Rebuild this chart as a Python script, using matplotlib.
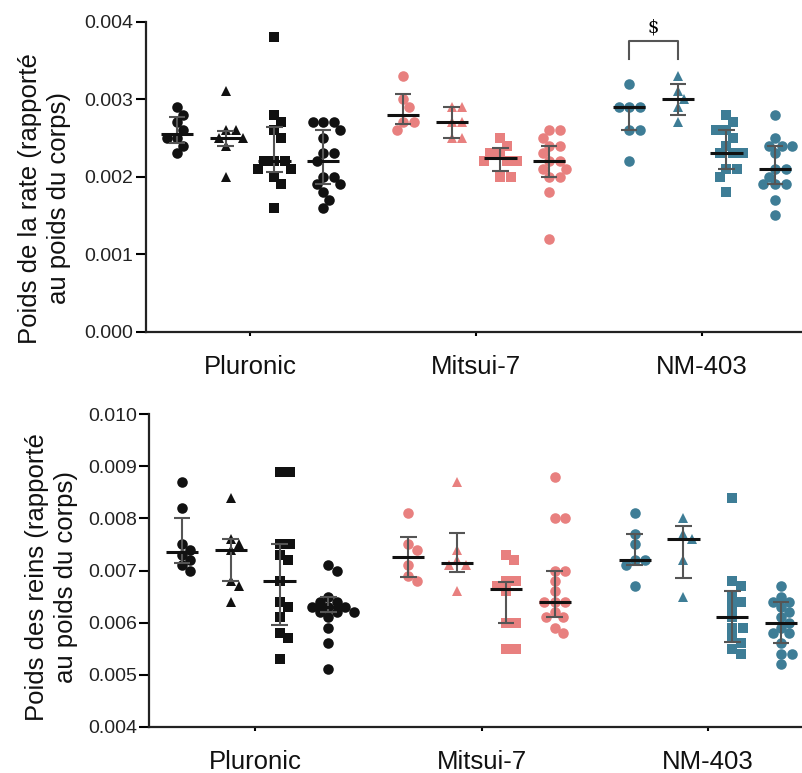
"""Spleen / kidney weight dot plots (median + IQR), two stacked panels."""
import numpy as np
import matplotlib
matplotlib.use("Agg")
import matplotlib.pyplot as plt
from matplotlib.ticker import FormatStrFormatter

plt.rcParams["font.family"] = ["Liberation Sans", "DejaVu Sans"]

# --- data ---------------------------------------------------------------
groups = ["Pluronic", "Mitsui-7", "NM-403"]
colors = ["#111111", "#E8807F", "#3E7D96"]
markers = ["o", "^", "s", "o"]

# spleen (rate), per group: 4 sub-series
rate_pluronic = [
    [0.0029, 0.0028, 0.0027, 0.0026, 0.0025, 0.0025, 0.0024, 0.0023],
    [0.0031, 0.0026, 0.0026, 0.0025, 0.0025, 0.0024, 0.0020],
    [0.0038, 0.0028, 0.0027, 0.0026, 0.0025, 0.0022, 0.0022, 0.0022, 0.0021,
     0.0021, 0.0020, 0.0019, 0.0016],
    [0.0027, 0.0027, 0.0027, 0.0026, 0.0025, 0.0023, 0.0023, 0.0022, 0.0020,
     0.0020, 0.0019, 0.0019, 0.0018, 0.0017, 0.0016],
]
rate_mitsui = [
    [0.0033, 0.0030, 0.0029, 0.0027, 0.0027, 0.0026],
    [0.0029, 0.0029, 0.0027, 0.0027, 0.0025, 0.0025],
    [0.0025, 0.0024, 0.0023, 0.0023, 0.0022, 0.0022, 0.0022, 0.0020, 0.0020],
    [0.0026, 0.0026, 0.0025, 0.0024, 0.0024, 0.0023, 0.0022, 0.0022, 0.0021,
     0.0021, 0.0020, 0.0020, 0.0018, 0.0012],
]
rate_nm = [
    [0.0032, 0.0029, 0.0029, 0.0029, 0.0026, 0.0026, 0.0022],
    [0.0033, 0.0031, 0.0030, 0.0029, 0.0027],
    [0.0028, 0.0027, 0.0026, 0.0026, 0.0025, 0.0024, 0.0023, 0.0023, 0.0023,
     0.0021, 0.0021, 0.0020, 0.0018],
    [0.0028, 0.0025, 0.0024, 0.0024, 0.0024, 0.0023, 0.0021, 0.0021, 0.0020,
     0.0019, 0.0019, 0.0019, 0.0017, 0.0015],
]
# (median, low, high) as drawn
rate_stats = [
    [(0.00255, 0.00243, 0.00277), (0.0025, 0.0024, 0.00259),
     (0.0022, 0.00206, 0.00264), (0.0022, 0.0019, 0.0026)],
    [(0.0028, 0.00268, 0.00307), (0.0027, 0.0025, 0.0029),
     (0.00224, 0.00207, 0.00237), (0.0022, 0.0020, 0.0024)],
    [(0.0029, 0.0026, 0.0029), (0.0030, 0.0028, 0.0032),
     (0.0023, 0.0021, 0.0026), (0.0021, 0.0019, 0.0024)],
]

# kidney (reins)
kid_pluronic = [
    [0.0087, 0.0082, 0.0075, 0.0074, 0.0073, 0.0072, 0.0071, 0.0070],
    [0.0084, 0.0076, 0.0075, 0.0074, 0.0068, 0.0067, 0.0064],
    [0.0089, 0.0089, 0.0075, 0.0075, 0.0073, 0.0072, 0.0068, 0.0064, 0.0063,
     0.0061, 0.0058, 0.0057, 0.0053],
    [0.0071, 0.0070, 0.0065, 0.0064, 0.0064, 0.0063, 0.0063, 0.0063, 0.0062,
     0.0062, 0.0062, 0.0061, 0.0059, 0.0056, 0.0051],
]
kid_mitsui = [
    [0.0081, 0.0075, 0.0074, 0.0071, 0.0069, 0.0068],
    [0.0087, 0.0074, 0.0072, 0.0071, 0.0071, 0.0066],
    [0.0073, 0.0072, 0.0068, 0.0068, 0.0067, 0.0066, 0.0060, 0.0060, 0.0055,
     0.0055],
    [0.0088, 0.0080, 0.0080, 0.0070, 0.0070, 0.0068, 0.0066, 0.0064, 0.0064,
     0.0064, 0.0062, 0.0061, 0.0061, 0.0059, 0.0058],
]
kid_nm = [
    [0.0081, 0.0077, 0.0075, 0.0072, 0.0072, 0.0071, 0.0067],
    [0.0080, 0.0077, 0.0076, 0.0072, 0.0065],
    [0.0084, 0.0068, 0.0067, 0.0065, 0.0064, 0.0063, 0.0061, 0.0059, 0.0059,
     0.0057, 0.0056, 0.0055, 0.0054],
    [0.0067, 0.0065, 0.0064, 0.0064, 0.0063, 0.0062, 0.0061, 0.0060, 0.0059,
     0.0058, 0.0058, 0.0056, 0.0054, 0.0054, 0.0052],
]
kid_stats = [
    [(0.00735, 0.00714, 0.0080), (0.0074, 0.0068, 0.0076),
     (0.0068, 0.00596, 0.0075), (0.0063, 0.0062, 0.0065)],
    [(0.00725, 0.00687, 0.00765), (0.00715, 0.00697, 0.00772),
     (0.00665, 0.0060, 0.00678), (0.0064, 0.0061, 0.0070)],
    [(0.0072, 0.0071, 0.0077), (0.0076, 0.00685, 0.00785),
     (0.0061, 0.00563, 0.0066), (0.0060, 0.0056, 0.0064)],
]

GROUP_STEP = 4.64
W, H = 802, 773


def pos(g, s):
    return g * GROUP_STEP + s


def swarm_x(ax, xc, vals, diam=10.5):
    """simple beeswarm in pixel space"""
    vals = np.asarray(vals, float)
    pts = ax.transData.transform(np.column_stack([np.full(len(vals), xc), vals]))
    x0, ys = pts[0, 0], pts[:, 1]
    xs = np.empty(len(vals))
    placed = []
    step = diam * 0.1
    for i in np.argsort(-vals, kind="stable"):
        for k in range(400):
            off = ((k + 1) // 2) * step * (1 if k % 2 else -1)
            if all((x0 + off - px) ** 2 + (ys[i] - py) ** 2 >= diam ** 2 * 0.85
                   for px, py in placed):
                break
        placed.append((x0 + off, ys[i]))
        xs[i] = x0 + off
    return ax.transData.inverted().transform(np.column_stack([xs, ys]))[:, 0]


def panel(ax, data, stats, ylim, yticks, ylabel, label_xy):
    ax.set_ylim(*ylim)
    for g in range(3):
        for s in range(4):
            vals = data[g][s]
            xc = pos(g, s)
            xs = swarm_x(ax, xc, vals)
            ax.plot(xs, vals, linestyle="none", marker=markers[s],
                    markersize=7.6, color=colors[g], markeredgewidth=0,
                    zorder=2, clip_on=False)
            med, lo, hi = stats[g][s]
            ax.vlines(xc, lo, hi, color="#555555", lw=1.5, zorder=3)
            ax.hlines([lo, hi], xc - 0.17, xc + 0.17, color="#555555", lw=1.5, zorder=3)
            ax.hlines(med, xc - 0.33, xc + 0.33, color="#111111", lw=2.2, zorder=4)

    ax.set_yticks(yticks)
    ax.yaxis.set_major_formatter(FormatStrFormatter("%.3f"))
    ax.set_xticks([pos(g, 1.5) for g in range(3)])
    ax.set_xticklabels(groups, fontsize=18.5, color="#111111")
    ax.tick_params(axis="x", length=3, width=1.5, pad=14)
    ax.tick_params(axis="y", length=7, width=1.5, pad=2, labelsize=14,
                   labelcolor="#222222")
    for sp in ("top", "right"):
        ax.spines[sp].set_visible(False)
    for sp in ("left", "bottom"):
        ax.spines[sp].set_linewidth(1.6)
        ax.spines[sp].set_color("#222222")
    ax.set_ylabel(ylabel, fontsize=18.5, linespacing=1.25, color="#111111")
    ax.yaxis.set_label_coords(*label_xy)


fig = plt.figure(figsize=(W / 100, H / 100), dpi=100, facecolor="w")

# top panel: spleen
l1, b1, t1 = 145.7, 331.7, 21.7
ax1 = fig.add_axes([l1 / W, 1 - b1 / H, (W - l1) / W, (b1 - t1) / H])
ax1.set_xlim(-0.643, 12.83)
panel(ax1, [rate_pluronic, rate_mitsui, rate_nm], rate_stats,
      (0, 0.004), [0, 0.001, 0.002, 0.003, 0.004],
      "Poids de la rate (rapporté\nau poids du corps)", (-0.114, 0.43))

# significance bracket NM-403 circles vs triangles
xa, xb = pos(2, 0), pos(2, 1)
ax1.plot([xa, xa, xb, xb], [0.00352, 0.003755, 0.003755, 0.00352],
         color="#555555", lw=1.5, clip_on=False)
ax1.text((xa + xb) / 2, 0.00392, "$", ha="center", va="center",
         fontsize=13, family="DejaVu Serif", parse_math=False)

# bottom panel: kidneys
l2, b2, t2 = 149.3, 726.7, 414.3
ax2 = fig.add_axes([l2 / W, 1 - b2 / H, (W - l2) / W, (b2 - t2) / H])
ax2.set_xlim(-0.67, 12.71)
panel(ax2, [kid_pluronic, kid_mitsui, kid_nm], kid_stats,
      (0.004, 0.010), [0.004, 0.005, 0.006, 0.007, 0.008, 0.009, 0.010],
      "Poids des reins (rapporté\nau poids du corps)", (-0.11, 0.48))

fig.savefig("out.png", dpi=100, facecolor="w")
plt.close(fig)
